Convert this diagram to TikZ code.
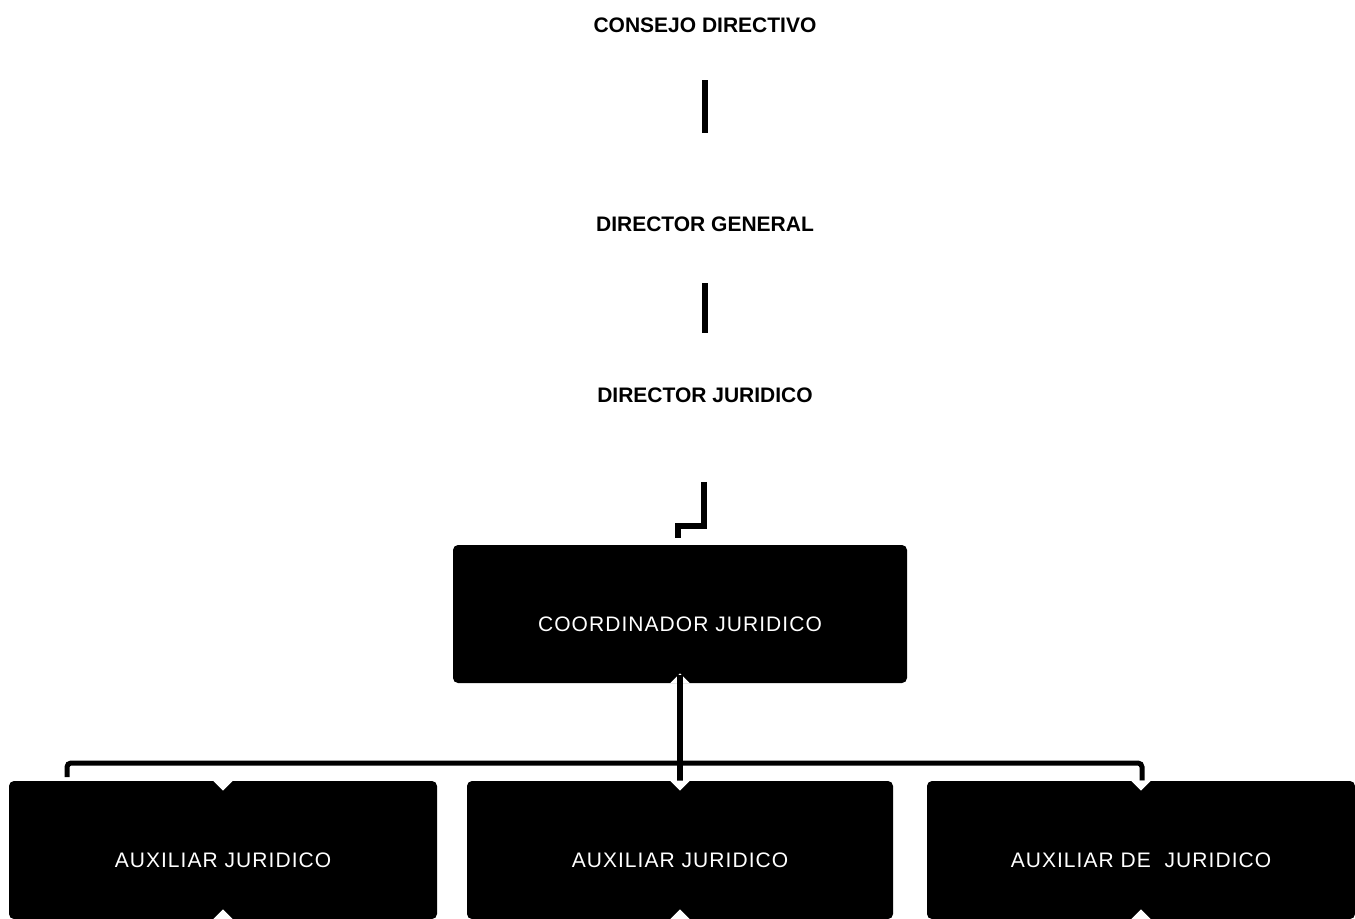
\documentclass[tikz,border=0pt]{standalone}
\usepackage{fontspec}
\setmainfont{Liberation Sans}
\newfontfamily\boxfont[LetterSpace=5]{Liberation Sans}
\usetikzlibrary{calc}

\begin{document}
\begin{tikzpicture}[x = 0.5pt, y = -0.5pt,
        title/.style = {inner sep = 0, font = \fontsize{10.5}{12}\selectfont\bfseries},
        unit/.style = {fill, rounded corners = 2.5pt, minimum height = 69pt, text = white,
            text height = 17.5pt, text depth = 0pt, font = \boxfont\fontsize{10.5}{12}\selectfont},
        link/.style = {line width = 3pt},
        bus/.style = {line width = 2.5pt, rounded corners = 2pt},
        notch/.style = {fill = white}
    ]
    \useasboundingbox (0, 0) rectangle (1355, 918);

    % heads
    \node [title] (consejo) at (705, 25) {CONSEJO DIRECTIVO};
    \node [title] (general) at (705, 224) {DIRECTOR GENERAL};
    \node [title] (juridico) at (705, 395) {DIRECTOR JURIDICO};

    % boxes
    \node [unit, minimum width = 227pt] (coord) at (680, 614) {COORDINADOR JURIDICO};
    \node [unit, minimum width = 214pt] (aux1) at (223, 850) {AUXILIAR JURIDICO};
    \node [unit, minimum width = 213pt] (aux2) at (680, 850) {AUXILIAR JURIDICO};
    \node [unit, minimum width = 214pt] (aux3) at (1141, 850) {AUXILIAR DE\ \ JURIDICO};

    \draw [link, shorten <= 23.75pt, shorten >= 41.75pt] (consejo) -- (general);
    \draw [link, shorten <= 25.75pt, shorten >= 27.25pt] (general) -- (juridico);
    \draw [link] ($(juridico.south) + (-1, 79)$) |- ($(coord.north) + (-2, -19)$)
        -- ($(coord.north) + (-2, -7)$);

    \fill [notch] ([xshift = -5pt] coord.south) -- ([yshift = 5pt] coord.south)
        -- ([xshift = 5pt] coord.south) -- cycle;
    \draw [link, line width = 2.75pt] ([yshift = 4pt] coord.south) -- (aux2.north);

    \coordinate (busend) at (67, 777);
    \coordinate (busturn) at (67, 763);
    \draw [bus] (busend) -- (busturn) -| ([xshift = 0.5pt] aux3.north);

    \foreach \b in {aux1, aux2, aux3} {
        \fill [notch] ([xshift = -5pt] \b.north) -- ([yshift = -5pt] \b.north)
            -- ([xshift = 5pt] \b.north) -- cycle;
        \fill [notch] ([xshift = -5pt] \b.south) -- ([yshift = 5pt] \b.south)
            -- ([xshift = 5pt] \b.south) -- cycle;
    }
\end{tikzpicture}
\end{document}
